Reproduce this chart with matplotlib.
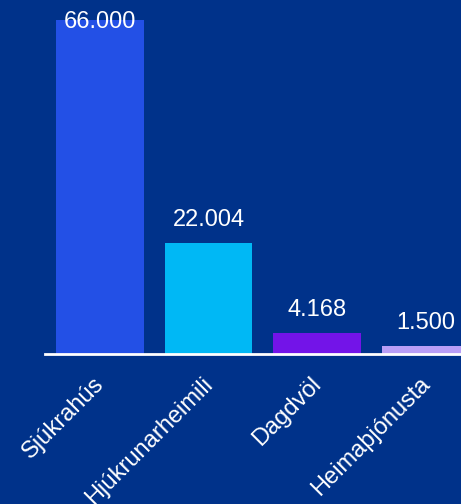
import matplotlib
matplotlib.use("Agg")
import matplotlib.pyplot as plt

categories = ["Sjúkrahús", "Hjúkrunarheimili", "Dagdvöl", "Heimaþjónusta"]
values = [66000, 22004, 4168, 1500]
value_labels = ["66.000", "22.004", "4.168", "1.500"]
colors = ["#2350E6", "#00B8F5", "#7314E8", "#B89EF6"]
bg = "#00328A"

W, H = 461, 504
fig = plt.figure(figsize=(W / 100, H / 100), dpi=100, facecolor=bg)
plt.rcParams["font.family"] = ["Liberation Sans", "DejaVu Sans"]

left_px, bottom_px, top_px = 45, 150, 484
axw_px = 435.5
ax = fig.add_axes([left_px / W, bottom_px / H, axw_px / W, (top_px - bottom_px) / H])
ax.set_facecolor(bg)
x = list(range(len(categories)))
ax.bar(x, values, width=0.81, color=colors, zorder=2)
ax.set_xlim(-0.507, 3.507)
ax.set_ylim(0, 66000)
for s in ["top", "right", "left"]:
    ax.spines[s].set_visible(False)
ax.spines["bottom"].set_color("white")
ax.spines["bottom"].set_linewidth(2)
ax.spines["bottom"].set_zorder(3)
ax.set_yticks([])
ax.set_xticks(x)
ax.set_xticklabels([])
ax.tick_params(axis="x", length=0)

fig.canvas.draw()
for xi, v, lab in zip(x, values, value_labels):
    disp = ax.transData.transform((xi, v))
    ybase = min(disp[1] + 17, H - 28)
    fig.text(disp[0] / W, ybase / H, lab, ha="center", va="baseline",
             color="white", fontsize=17)
    d0 = ax.transData.transform((xi, 0))
    fig.text((d0[0] + 1) / W, (d0[1] - 27) / H, categories[xi], rotation=45,
             rotation_mode="anchor", ha="right", va="center",
             color="white", fontsize=17)

fig.savefig("out.png", dpi=100, facecolor=bg)
